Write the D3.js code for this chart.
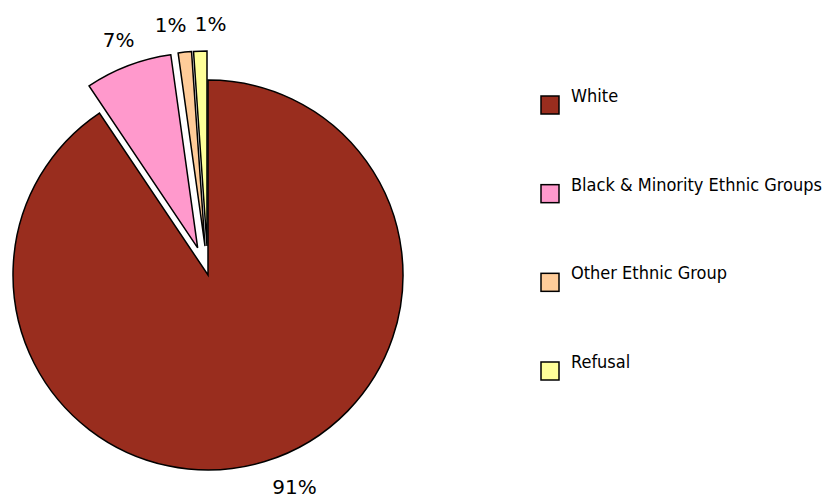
<!DOCTYPE html>
<html><head><meta charset="utf-8">
<script src="https://cdn.jsdelivr.net/npm/d3@7"></script>
<style>body{margin:0;background:#fff}svg{display:block}</style>
</head><body>
<svg id="c" width="823" height="500"></svg>
<script>
const categories = ["White", "Black & Minority Ethnic Groups", "Other Ethnic Group", "Refusal"];
const values = [90.6, 7.2, 1.1, 1.1];
const pctLabels = ["91%", "7%", "1%", "1%"];
const colors = ["#992D1E", "#FF99CC", "#FFCC99", "#FFFF99"];
const exploded = [false, true, true, true];

const svg = d3.select("#c");
const cx = 208, cy = 275, R = 195, off = 29;

const pie = d3.pie().sort(null).value(d => d)(values);
const arc = d3.arc().innerRadius(0).outerRadius(R);

const g = svg.append("g").attr("transform", `translate(${cx},${cy})`);
pie.forEach((p, i) => {
  const mid = (p.startAngle + p.endAngle) / 2;
  const o = exploded[i] ? off : 0;
  const dx = Math.sin(mid) * o, dy = -Math.cos(mid) * o;
  g.append("path").attr("d", arc(p))
    .attr("transform", `translate(${dx},${dy})`)
    .attr("fill", colors[i]).attr("stroke", "#000")
    .attr("stroke-width", 1.5).attr("stroke-linejoin", "miter");
});

// labels
const labelR = 222;
const maxY = 487 - cy;
const pos = pie.map((p, i) => {
  const mid = (p.startAngle + p.endAngle) / 2;
  const o = exploded[i] ? off : 0;
  const r = i === 0 ? 229 : labelR + o;
  let x = Math.sin(mid) * r, y = -Math.cos(mid) * r;
  if (y > maxY) { y = maxY; x = Math.sign(x) * Math.sqrt(r * r - y * y); }
  return {x, y, i};
});
// spread the top small labels apart horizontally
const small = pos.slice(1).sort((a, b) => a.x - b.x);
for (let k = 0; k < 5; k++) {
  for (let j = 1; j < small.length; j++) {
    const gap = small[j].x - small[j - 1].x;
    if (gap < 40) { const d = (40 - gap) / 2; small[j].x += d; small[j - 1].x -= d; }
  }
}
pos.forEach(p => {
  g.append("text").attr("x", p.x).attr("y", p.y)
    .attr("text-anchor", "middle").attr("dominant-baseline", "central")
    .attr("font-family", "DejaVu Sans").attr("font-size", 20).attr("fill", "#000")
    .text(pctLabels[p.i]);
});

// legend
const lg = svg.append("g");
const rowY = d3.scalePoint().domain(categories).range([95, 361]);
categories.forEach((c, i) => {
  const y = rowY(c);
  lg.append("rect").attr("x", 541).attr("y", y + 1).attr("width", 18).attr("height", 18)
    .attr("fill", colors[i]).attr("stroke", "#000").attr("stroke-width", 1.5);
  lg.append("text").attr("x", 571).attr("y", y + 7)
    .attr("font-family", "DejaVu Sans Condensed").attr("font-size", 18).attr("fill", "#000")
    .text(c);
});
</script>
</body></html>
